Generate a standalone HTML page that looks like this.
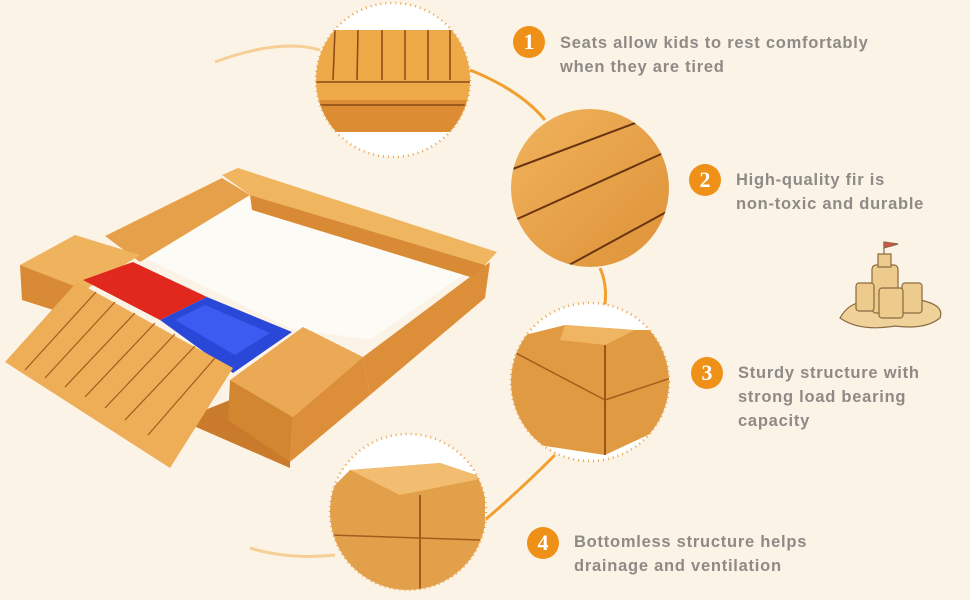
<!DOCTYPE html>
<html><head><meta charset="utf-8"><style>
html,body{margin:0;padding:0;background:#fcf3e7;}
#c{position:relative;width:970px;height:600px;overflow:hidden;background:#fcf3e7;font-family:"Liberation Sans",sans-serif;}
.t{position:absolute;color:#8e8a86;font-weight:bold;font-size:16.5px;line-height:24px;letter-spacing:0.75px;}
.b{position:absolute;width:32px;height:32px;border-radius:50%;background:#ef9119;color:#fff;font-weight:bold;font-size:22px;line-height:32px;text-align:center;font-family:"Liberation Serif",serif;}
</style></head><body><div id="c">
<svg width="970" height="600" style="position:absolute;left:0;top:0">
<defs>
<linearGradient id="w" x1="0" y1="0" x2="1" y2="1"><stop offset="0" stop-color="#f2b55e"/><stop offset="1" stop-color="#dc8f35"/></linearGradient>
<clipPath id="c1"><circle cx="393" cy="80" r="77"/></clipPath>
<clipPath id="c2"><circle cx="590" cy="188" r="79"/></clipPath>
<clipPath id="c3"><circle cx="590" cy="382" r="79"/></clipPath>
<clipPath id="c4"><circle cx="408" cy="512" r="78"/></clipPath>
</defs>
<path d="M215,62 Q280,38 320,50" stroke="#f4b860" stroke-width="3" fill="none" opacity="0.6"/>
<path d="M470,70 Q520,90 545,120" stroke="#f1a030" stroke-width="3" fill="none"/>
<path d="M600,268 Q610,290 602,320" stroke="#f1a030" stroke-width="3" fill="none"/>
<path d="M555,455 Q520,490 485,520" stroke="#f1a030" stroke-width="3" fill="none"/>
<path d="M335,555 Q290,560 250,548" stroke="#f4b860" stroke-width="3" fill="none" opacity="0.6"/>
<g>
<circle cx="393" cy="80" r="77" fill="#fff"/>
<g clip-path="url(#c1)"><rect x="310" y="30" width="170" height="70" fill="#eea948"/><rect x="310" y="100" width="170" height="32" fill="#dc8c33"/>
<g stroke="#8a4a14" stroke-width="1.5"><line x1="335" y1="30" x2="333" y2="80"/><line x1="358" y1="30" x2="357" y2="80"/><line x1="382" y1="30" x2="382" y2="80"/><line x1="405" y1="30" x2="405" y2="80"/><line x1="428" y1="30" x2="428" y2="80"/><line x1="450" y1="30" x2="450" y2="80"/><line x1="310" y1="82" x2="480" y2="82"/><line x1="310" y1="105" x2="480" y2="105"/></g></g>
<circle cx="393" cy="80" r="77" fill="none" stroke="#e9a24a" stroke-width="2.5" stroke-dasharray="1 4"/>
</g>
<g clip-path="url(#c2)"><rect x="500" y="100" width="180" height="180" fill="url(#w)"/>
<g stroke="#6a3410" stroke-width="2"><line x1="510" y1="170" x2="670" y2="110"/><line x1="515" y1="220" x2="670" y2="150"/><line x1="560" y1="270" x2="670" y2="210"/></g></g>
<circle cx="590" cy="382" r="79" fill="#fff"/>
<g clip-path="url(#c3)"><polygon points="505,340 565,325 635,330 680,330 680,420 605,455 505,440" fill="#e09a42"/>
<polygon points="565,325 635,330 605,345 560,340" fill="#f0b562"/>
<line x1="605" y1="345" x2="605" y2="455" stroke="#9a5518" stroke-width="2"/><line x1="510" y1="350" x2="605" y2="400" stroke="#a45c1c" stroke-width="1.5"/><line x1="605" y1="400" x2="680" y2="375" stroke="#a45c1c" stroke-width="1.5"/></g>
<circle cx="590" cy="382" r="79" fill="none" stroke="#e9a24a" stroke-width="2.5" stroke-dasharray="1 4"/>
<circle cx="408" cy="512" r="78" fill="#fff"/>
<g clip-path="url(#c4)"><polygon points="350,470 440,463 485,478 485,600 330,600 330,490" fill="#e3a04a"/>
<polygon points="350,470 440,463 485,478 400,495" fill="#f2bd70"/>
<line x1="420" y1="495" x2="420" y2="600" stroke="#a45c1c" stroke-width="2"/><line x1="330" y1="535" x2="480" y2="540" stroke="#a45c1c" stroke-width="1.5"/></g>
<circle cx="408" cy="512" r="78" fill="none" stroke="#e9a24a" stroke-width="2.5" stroke-dasharray="1 4"/>
<!-- sandbox -->
<polygon points="145,258 245,192 470,270 370,340 290,328" fill="#fdfbf5"/>
<polygon points="105,236 222,178 250,195 140,262" fill="#e6a04a"/>
<polygon points="222,175 238,168 497,252 485,265 250,195" fill="#efb55f"/>
<polygon points="250,195 485,265 480,280 252,210" fill="#d98a34"/>
<polygon points="363,357 490,262 485,298 370,395" fill="#dc8f38"/>
<polygon points="20,265 75,235 140,255 85,290" fill="#efb35e"/>
<polygon points="20,265 85,290 85,320 22,300" fill="#d98a34"/>
<polygon points="83,280 133,262 207,297 160,320" fill="#e0281e"/>
<polygon points="160,320 207,297 292,332 233,373" fill="#2a48d8"/>
<polygon points="175,320 205,305 270,333 235,355" fill="#3c5bf0"/>
<polygon points="180,420 230,400 290,440 290,468" fill="#c97a2a"/>
<polygon points="230,380 303,327 363,357 293,417" fill="#eba955"/>
<polygon points="230,380 293,417 290,462 228,420" fill="#d2862f"/>
<polygon points="293,417 363,357 370,395 290,462" fill="#dc8f38"/>
<polygon points="5,362 77,282 233,368 170,468" fill="#eeae58"/>
<g stroke="#a35a1c" stroke-width="1.2"><line x1="25" y1="370" x2="96" y2="292"/><line x1="45" y1="378" x2="115" y2="302"/><line x1="65" y1="387" x2="135" y2="313"/><line x1="85" y1="397" x2="155" y2="323"/><line x1="105" y1="408" x2="175" y2="334"/><line x1="125" y1="420" x2="195" y2="346"/><line x1="148" y1="435" x2="215" y2="358"/></g>
<g stroke="#8a6a40" stroke-width="1.2">
<path d="M840,318 Q850,300 870,302 L920,300 Q945,305 940,318 Q925,330 895,326 Q860,332 840,318Z" fill="#efd19a"/>
<rect x="872" y="265" width="26" height="48" rx="4" fill="#eccb8d"/>
<rect x="878" y="254" width="13" height="13" fill="#eccb8d"/>
<line x1="884" y1="254" x2="884" y2="242"/><polygon points="884,242 898,244 884,248" fill="#e0504a"/>
<rect x="856" y="283" width="18" height="28" rx="3" fill="#eccb8d"/>
<rect x="902" y="283" width="20" height="30" rx="3" fill="#eccb8d"/>
<rect x="879" y="288" width="24" height="30" rx="3" fill="#eccb8d"/>
</g>
</svg>
<div class="b" style="left:513px;top:26px">1</div>
<div class="t" style="left:560px;top:31px">Seats allow kids to rest comfortably<br>when they are tired</div>
<div class="b" style="left:689px;top:164px">2</div>
<div class="t" style="left:736px;top:168px">High-quality fir is<br>non-toxic and durable</div>
<div class="b" style="left:691px;top:357px">3</div>
<div class="t" style="left:738px;top:361px">Sturdy structure with<br>strong load bearing<br>capacity</div>
<div class="b" style="left:527px;top:527px">4</div>
<div class="t" style="left:574px;top:530px">Bottomless structure helps<br>drainage and ventilation</div>
</div></body></html>
